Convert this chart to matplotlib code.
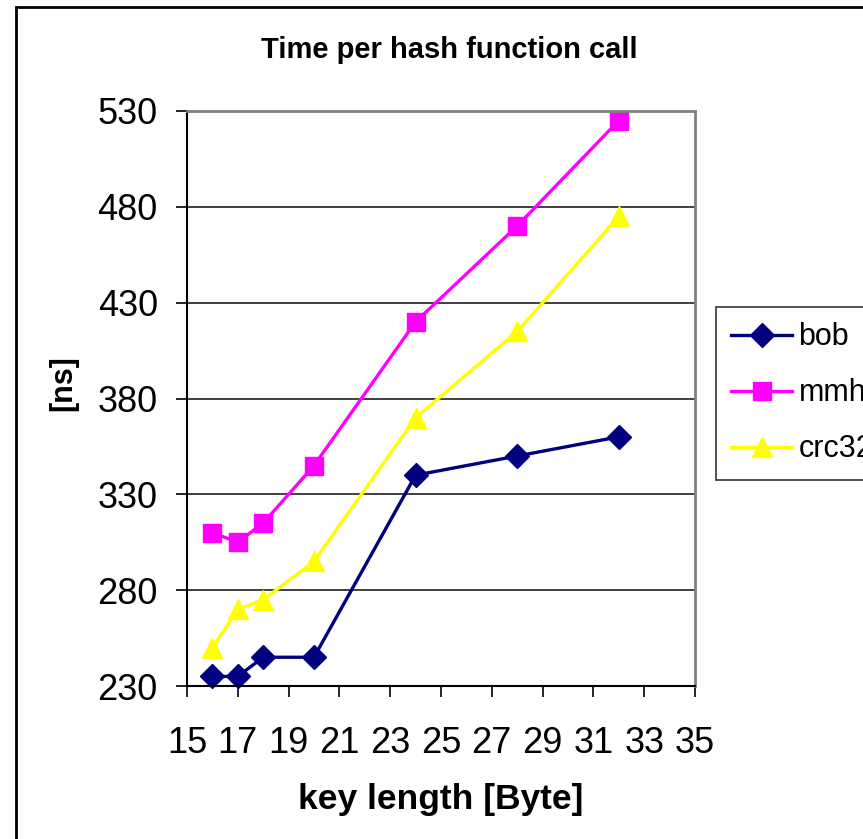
"""Time per hash function call — Excel-style line chart."""
import matplotlib
matplotlib.use("Agg")
import matplotlib.pyplot as plt
from matplotlib.patches import Rectangle

key_length = [16, 17, 18, 20, 24, 28, 32]
bob = [235, 235, 245, 245, 340, 350, 360]
mmh = [310, 305, 315, 345, 420, 470, 525]
crc32 = [250, 270, 275, 295, 370, 415, 475]

x_ticks = list(range(15, 36, 2))
y_ticks = list(range(230, 531, 50))

plt.rcParams["font.family"] = ["Liberation Sans", "DejaVu Sans"]

W, H = 863, 839
fig = plt.figure(figsize=(W / 100, H / 100), dpi=100)
ax = fig.add_axes([187 / W, 1 - 686 / H, (695 - 187) / W, (686 - 111) / H])

ax.plot(key_length, bob, color="#000080", marker="D", markersize=12, linewidth=2.4, label="bob", clip_on=False)
ax.plot(key_length, mmh, color="#FF00FF", marker="s", markersize=13, linewidth=2.4, label="mmh", clip_on=False)
ax.plot(key_length, crc32, color="#FFFF00", marker="^", markersize=15, linewidth=2.4, label="crc32", clip_on=False)

ax.set_xlim(15, 35)
ax.set_ylim(230, 530)
ax.set_xticks(x_ticks)
ax.set_yticks(y_ticks)
ax.tick_params(axis="x", direction="out", length=8, width=1.2, pad=21, labelsize=26)
ax.tick_params(axis="y", direction="out", length=8, width=1.2, pad=13, labelsize=26)
ax.yaxis.grid(True, color="#202020", linewidth=1.2)
ax.set_axisbelow(True)

ax.spines["left"].set_color("black")
ax.spines["bottom"].set_color("black")
ax.spines["left"].set_linewidth(1.5)
ax.spines["bottom"].set_linewidth(1.5)
ax.spines["top"].set_color("#808080")
ax.spines["right"].set_color("#808080")
ax.spines["top"].set_linewidth(2)
ax.spines["right"].set_linewidth(2)

fig.text(449 / W, 1 - 50 / H, "Time per hash function call", ha="center", va="center",
         fontsize=21, fontweight="bold")
fig.text(441 / W, 1 - 800 / H, "key length [Byte]", ha="center", va="center",
         fontsize=25.5, fontweight="bold")
fig.text(63 / W, 1 - 383 / H, "[ns]", ha="center", va="center", rotation=90,
         fontsize=22, fontweight="bold")

# legend runs past the right edge, as in the original export
leg = fig.legend(loc="upper left", bbox_to_anchor=(716 / W, 1 - 307 / H), fontsize=22,
                 frameon=True, fancybox=False, edgecolor="black", borderpad=0.5,
                 labelspacing=0.85, handlelength=2.0, handletextpad=0.2, borderaxespad=0)
leg.get_frame().set_linewidth(1.2)

fig.patches.append(Rectangle((16 / W, -0.1), 1.1, 1.1 - 7 / H, transform=fig.transFigure,
                             fill=False, edgecolor="black", linewidth=2))

fig.savefig("out.png", dpi=100)
